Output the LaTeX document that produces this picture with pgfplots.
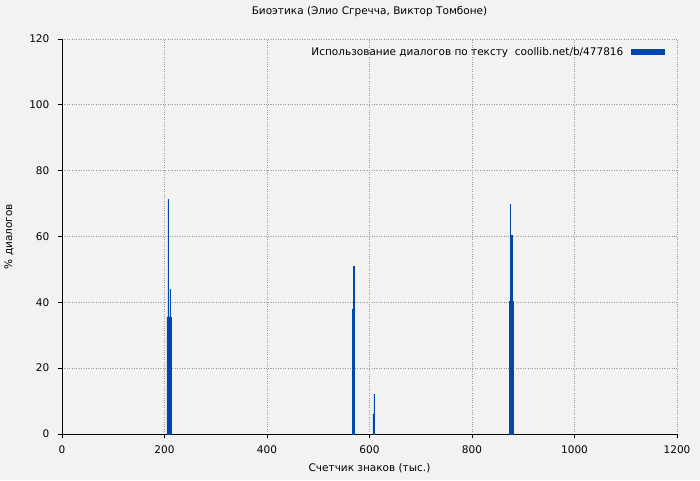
\documentclass[border=0pt]{standalone}
\usepackage{pgfplots}
\pgfplotsset{compat=1.18}
\usepackage{fontspec}
\setmainfont{DejaVu Sans}
\definecolor{bg}{HTML}{F2F2F2}
\definecolor{barblue}{HTML}{0046AD}
\begin{document}
\fontsize{10.5}{12}\selectfont
\begin{tikzpicture}
\fill[bg] (-62pt,-46pt) rectangle (638pt,434pt);
\useasboundingbox (-62pt,-46pt) rectangle (638pt,434pt);
\begin{axis}[
  scale only axis,
  width=615pt, height=395pt,
  xmin=0, xmax=1200, ymin=0, ymax=120,
  xtick={0,200,...,1200}, ytick={0,20,...,120},
  axis x line*=bottom, axis y line*=left,
  axis line style={black, line width=0.8pt, -},
  tick align=outside, tick style={black, line width=0.8pt},
  major tick length=4pt,
  grid=major, grid style={gray!80, dotted, line width=0.7pt},
  /pgf/number format/assume math mode=true,
  /pgf/number format/1000 sep={},
  ticklabel style={font=\fontsize{10.5}{12}\selectfont},
  xticklabel style={yshift=-4pt},
  yticklabel style={xshift=-5pt},
  title={Биоэтика (Элио Сгречча, Виктор Томбоне)},
  title style={at={(0.5,1)}, anchor=center, yshift=21pt},
  xlabel={Счетчик знаков (тыс.)}, ylabel={\% диалогов},
  xlabel style={at={(axis description cs:0.5,0)}, anchor=center, yshift=-34pt},
  ylabel style={at={(axis description cs:-0.0862,0.5)}, anchor=center},
  legend style={at={(1,1)}, anchor=north east, draw=none, fill=none,
    font=\fontsize{10.5}{12}\selectfont, xshift=-9pt, yshift=-4pt, column sep=6pt},
  legend cell align=right, legend plot pos=right,
  legend image code/.code={\fill[barblue] (0pt,-2.5pt) rectangle (33pt,2.5pt);},
]
\addplot[ybar, bar width=1.1, bar shift=0, fill=barblue, draw=barblue, line width=0.5pt] coordinates {
  (205,35.6) (206,35.6) (207,71.3) (208,35.6) (209,35.6) (210,35.6) (211,44.0) (212,35.6)
  (567,38.0) (568,38.0) (569,51.1)
  (607,6.1) (608,6.1) (609,12.2)
  (874,40.4) (875,69.8) (876,40.4) (877,40.4) (878,60.5) (879,40.4)
};
\addlegendentry{Использование диалогов по тексту\ \ coollib.net/b/477816}
\end{axis}
\end{tikzpicture}
\end{document}
